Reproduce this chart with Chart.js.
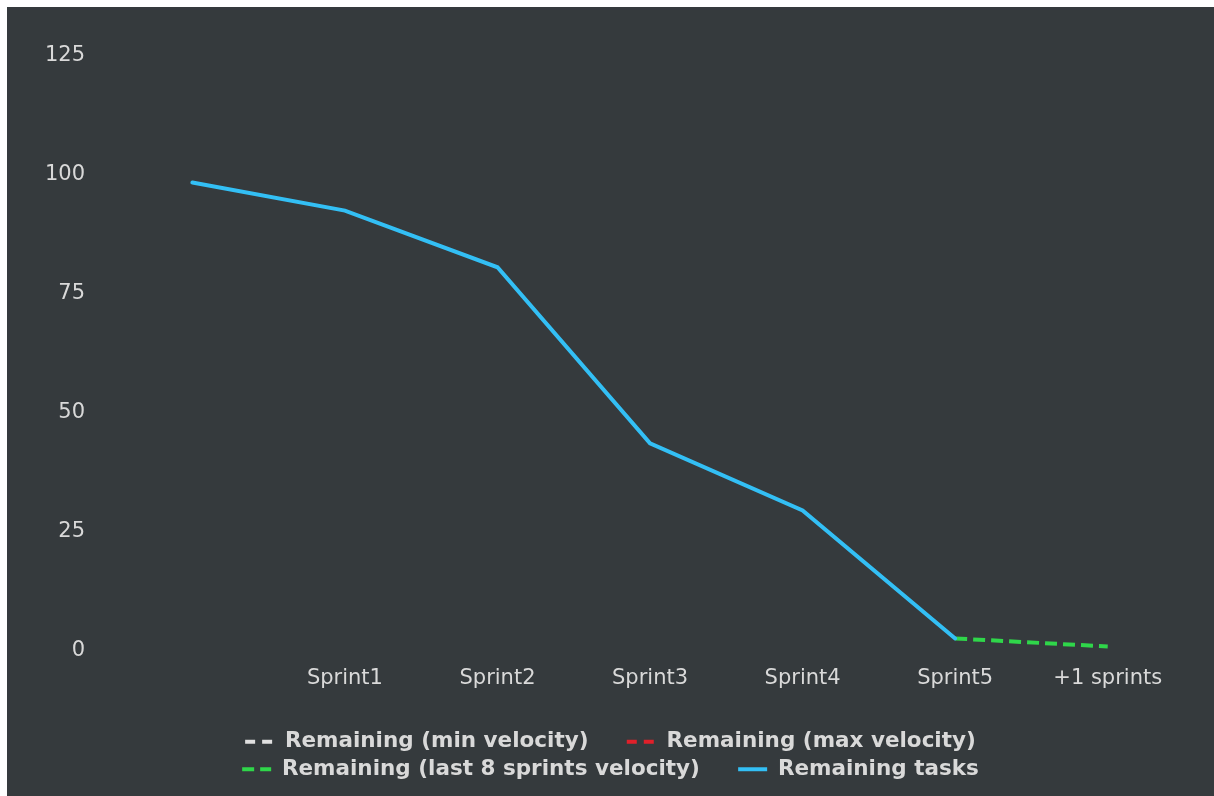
<!DOCTYPE html>
<html>
<head>
<meta charset="utf-8">
<script src="https://cdn.jsdelivr.net/npm/chart.js@4/dist/chart.umd.min.js"></script>
<style>
  html, body { margin: 0; padding: 0; background: #ffffff; width: 1214px; height: 796px; overflow: hidden; }
  #wrap { position: absolute; left: 7px; top: 7px; width: 1207px; height: 789px; background: #353a3d; }
  canvas { display: block; }
</style>
</head>
<body>
<div id="wrap"><canvas id="c" width="1207" height="789"></canvas></div>
<script>
const categories = ["", "Sprint1", "Sprint2", "Sprint3", "Sprint4", "Sprint5", "+1 sprints"];
const remainingTasks = [98.4, 92.5, 80.6, 43.6, 29.5, 2.6, null];
const remainingMinVelocity = [null, null, null, null, null, null, null];
const remainingMaxVelocity = [null, null, null, null, null, null, null];
const remainingLast8Velocity = [null, null, null, null, null, 2.6, 0.9];
const yTicks = [0, 25, 50, 75, 100, 125];

const seriesNames = [
  "Remaining (min velocity)",
  "Remaining (max velocity)",
  "Remaining (last 8 sprints velocity)",
  "Remaining tasks"
];
// extra trailing gap after the first item of each legend row
const legendGaps = ["\u2002\u2002\u2002", "", "\u2002\u2002\u2002", ""];

const textColor = "#d9d9d9";
const fontFamily = "'DejaVu Sans', 'Lucida Grande', sans-serif";

new Chart(document.getElementById('c'), {
  type: 'line',
  data: {
    labels: categories,
    datasets: [
      { label: seriesNames[0], data: remainingMinVelocity, borderColor: '#e0e0e0', backgroundColor: '#e0e0e0', borderDash: [10, 7], borderWidth: 4, pointRadius: 0, order: 3 },
      { label: seriesNames[1], data: remainingMaxVelocity, borderColor: '#e0202a', backgroundColor: '#e0202a', borderDash: [10, 7], borderWidth: 4, pointRadius: 0, order: 2 },
      { label: seriesNames[2], data: remainingLast8Velocity, borderColor: '#2fd64a', backgroundColor: '#2fd64a', borderDash: [12, 6], borderWidth: 4, pointRadius: 0, order: 1 },
      { label: seriesNames[3], data: remainingTasks, borderColor: '#33bff5', backgroundColor: '#33bff5', borderWidth: 4, pointRadius: 0, order: 0, borderCapStyle: 'round' }
    ]
  },
  options: {
    responsive: false,
    animation: false,
    spanGaps: false,
    layout: { padding: { left: 30, right: 30, top: 49, bottom: 6 } },
    plugins: {
      tooltip: { enabled: false },
      title: { display: false },
      legend: {
        position: 'bottom',
        align: 'center',
        labels: {
          color: textColor,
          font: { family: fontFamily, size: 21.5, weight: 'bold' },
          usePointStyle: true,
          pointStyleWidth: 29,
          padding: 6,
          generateLabels(chart) {
            return chart.data.datasets.map((ds, i) => ({
              text: ds.label + legendGaps[i],
              fillStyle: ds.borderColor,
              strokeStyle: ds.borderColor,
              lineWidth: 4,
              lineDash: ds.borderDash || [],
              pointStyle: 'line',
              fontColor: textColor,
              hidden: false,
              datasetIndex: i
            }));
          }
        }
      }
    },
    scales: {
      x: {
        offset: true,
        grid: { display: false, drawTicks: false },
        border: { display: false },
        ticks: { color: textColor, font: { family: fontFamily, size: 21 }, padding: 15, maxRotation: 0, autoSkip: false },
        afterFit(scale) { scale.height += 19; }
      },
      y: {
        min: 0,
        max: 125,
        grid: { display: false, drawTicks: false },
        border: { display: false },
        afterBuildTicks(scale) { scale.ticks = yTicks.map(v => ({ value: v })); },
        ticks: { color: textColor, font: { family: fontFamily, size: 21 }, padding: 31 },
        afterFit(scale) { scale.width -= 23; }
      }
    }
  }
});
</script>
</body>
</html>
